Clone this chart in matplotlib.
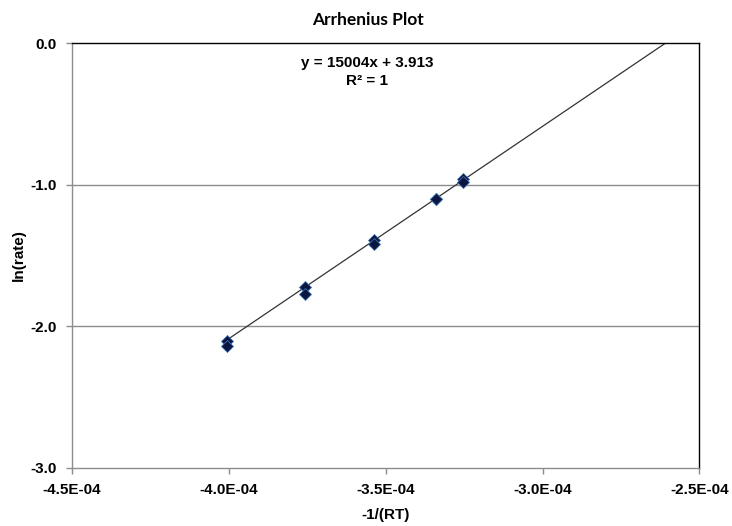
import numpy as np
import matplotlib
matplotlib.use('agg')
import matplotlib.pyplot as plt

# -1/(RT) and ln(rate), two runs at each temperature
x_vals = [-4.0065e-4, -4.0065e-4, -3.757e-4, -3.757e-4, -3.537e-4, -3.537e-4,
          -3.340e-4, -3.340e-4, -3.252e-4, -3.252e-4]
y_vals = [-2.102, -2.139, -1.725, -1.776, -1.394, -1.418,
          -1.104, -1.100, -0.962, -0.984]
eq_text = "y = 15004x + 3.913"
r2_text = "R\u00b2 = 1"
x_ticks = [-4.5e-4, -4.0e-4, -3.5e-4, -3.0e-4, -2.5e-4]
x_labels = ["-4.5E-04", "-4.0E-04", "-3.5E-04", "-3.0E-04", "-2.5E-04"]
y_ticks = [0.0, -1.0, -2.0, -3.0]

fam = ['Liberation Sans Narrow', 'Liberation Sans', 'DejaVu Sans']
fs = 11

fig = plt.figure(figsize=(7.32, 5.26), dpi=100)
ax = fig.add_axes([0.0984, 0.111, 0.857, 0.807])

ax.set_xlim(-4.5e-4, -2.5e-4)
ax.set_ylim(-3.0, 0.0)

for yy in [-1.0, -2.0]:
    ax.axhline(yy, color='#8c8c8c', lw=1.0, zorder=1)

# linear trendline, forecast forward to the right edge
xl = np.array([min(x_vals), -2.5e-4])
ax.plot(xl, 15004 * xl + 3.913, color='#333333', lw=0.9, zorder=2)

ax.plot(x_vals, y_vals, linestyle='none', marker='D', markersize=6,
        markerfacecolor='#0b1640', markeredgecolor='#3c6fb0',
        markeredgewidth=0.6, zorder=3)

ax.text(0.47, 0.953, eq_text, transform=ax.transAxes, ha='center', va='center',
        fontsize=fs, fontweight='bold', family=fam)
ax.text(0.47, 0.911, r2_text, transform=ax.transAxes, ha='center', va='center',
        fontsize=fs, fontweight='bold', family=fam)

ax.set_xticks(x_ticks)
ax.set_xticklabels(x_labels, fontsize=fs, fontweight='bold', family=fam)
ax.set_yticks(y_ticks)
ax.set_yticklabels(["%.1f" % v for v in y_ticks], fontsize=fs,
                   fontweight='bold', family=fam)
ax.tick_params(direction='out', length=4, width=1, color='#8c8c8c', pad=7)

ax.spines['left'].set_color('#8c8c8c')
ax.spines['bottom'].set_color('#8c8c8c')
ax.spines['top'].set_color('black')
ax.spines['right'].set_color('black')
for s in ax.spines.values():
    s.set_linewidth(1.0)

ax.set_xlabel("-1/(RT)", fontsize=fs, fontweight='bold', family=fam, labelpad=8)
ax.set_ylabel("ln(rate)", fontsize=fs, fontweight='bold', family=fam, labelpad=3)
fig.suptitle("Arrhenius Plot", x=0.503, y=0.977, fontsize=12.5,
             fontweight='bold', family=['Lato', 'DejaVu Sans'])

fig.savefig('out.png', dpi=100)
